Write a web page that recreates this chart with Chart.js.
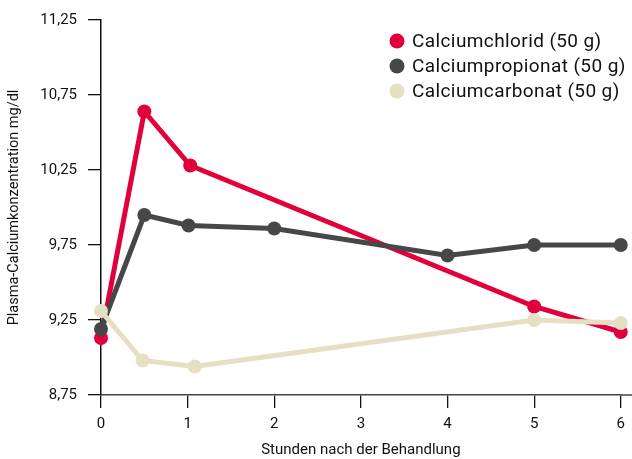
<!DOCTYPE html>
<html>
<head>
<meta charset="utf-8">
<script src="https://cdn.jsdelivr.net/npm/chart.js@4.4.1/dist/chart.umd.min.js"></script>
<style>
  html, body { margin: 0; padding: 0; background: #fff; }
  #wrap { width: 632px; height: 459px; }
</style>
</head>
<body>
<div id="wrap"><canvas id="calciumChart"></canvas></div>
<script>
// values (hours after treatment, mg/dl)
const seriesNames = ["Calciumchlorid (50 g)", "Calciumpropionat (50 g)", "Calciumcarbonat (50 g)"];
const seriesColors = ["#e2003c", "#474747", "#e5dfc3"];

const chloridHours = [0, 0.5, 1.03, 5, 6];
const chloridValues = [9.13, 10.64, 10.28, 9.34, 9.17];

const propionatHours = [0, 0.5, 1.01, 2, 4, 5, 6];
const propionatValues = [9.19, 9.95, 9.88, 9.86, 9.68, 9.75, 9.75];

const carbonatHours = [0, 0.48, 1.08, 5, 6];
const carbonatValues = [9.31, 8.98, 8.94, 9.25, 9.23];

const yTicks = [8.75, 9.25, 9.75, 10.25, 10.75, 11.25];
const xTicks = [0, 1, 2, 3, 4, 5, 6];

const FONT = "Roboto, 'DejaVu Sans', sans-serif";

const toPoints = (xs, ys) => xs.map((x, i) => ({ x, y: ys[i] }));

function lineSet(idx, xs, ys, order) {
  return {
    label: seriesNames[idx],
    data: toPoints(xs, ys),
    borderColor: seriesColors[idx],
    backgroundColor: seriesColors[idx],
    pointBackgroundColor: seriesColors[idx],
    pointBorderWidth: 0,
    pointRadius: 7,
    pointHoverRadius: 7,
    borderWidth: 5,
    tension: 0,
    clip: false,
    order
  };
}

// legend drawn inside the plot, top right
const innerLegend = {
  id: "innerLegend",
  afterDraw(chart) {
    const c = chart.ctx;
    const x0 = 397, y0 = 41, rowH = 25;
    c.save();
    c.font = "19px " + FONT;
    c.letterSpacing = "0.4px";
    c.textBaseline = "middle";
    c.textAlign = "left";
    chart.data.datasets.forEach((ds, i) => {
      const y = y0 + i * rowH;
      c.fillStyle = ds.borderColor;
      c.beginPath();
      c.arc(x0, y, 7.5, 0, Math.PI * 2);
      c.fill();
      c.fillStyle = "#111";
      c.fillText(ds.label, x0 + 15, y + 1);
    });
    c.restore();
  }
};

// x axis line runs on to the right edge
const axisTail = {
  id: "axisTail",
  afterDraw(chart) {
    const c = chart.ctx, a = chart.chartArea;
    c.save();
    c.strokeStyle = "#444";
    c.lineWidth = 1.5;
    c.beginPath();
    c.moveTo(a.right, a.bottom);
    c.lineTo(chart.width, a.bottom);
    c.stroke();
    c.restore();
  }
};

new Chart(document.getElementById("calciumChart"), {
  type: "line",
  data: {
    datasets: [
      lineSet(0, chloridHours, chloridValues, 3),
      lineSet(1, propionatHours, propionatValues, 2),
      lineSet(2, carbonatHours, carbonatValues, 1)
    ]
  },
  options: {
    responsive: true,
    maintainAspectRatio: false,
    animation: false,
    layout: { padding: { top: 16, right: 9, left: 0, bottom: 0 } },
    plugins: { legend: { display: false }, tooltip: { enabled: false } },
    scales: {
      x: {
        type: "linear",
        min: 0, max: 6,
        afterBuildTicks: s => { s.ticks = xTicks.map(v => ({ value: v })); },
        afterFit: s => { s.height = 64; },
        grid: { drawOnChartArea: false, drawTicks: true, tickLength: 13, color: "#111", lineWidth: 1.3 },
        border: { color: "#444", width: 1.5 },
        ticks: { color: "#111", font: { family: FONT, size: 15 }, padding: 7 },
        title: { display: true, text: "Stunden nach der Behandlung", color: "#111", font: { family: FONT, size: 15 }, padding: { top: 6, bottom: 0 } }
      },
      y: {
        type: "linear",
        min: 8.75, max: 11.25,
        afterBuildTicks: s => { s.ticks = yTicks.map(v => ({ value: v })); },
        afterFit: s => { s.width = 101; },
        grid: { drawOnChartArea: false, drawTicks: true, tickLength: 13, color: "#111", lineWidth: 1.3 },
        border: { color: "#111", width: 1.5 },
        ticks: { color: "#111", font: { family: FONT, size: 15 }, padding: 11,
          callback: v => v.toFixed(2).replace(".", ",") },
        title: { display: true, text: "Plasma-Calciumkonzentration mg/dl", color: "#111", font: { family: FONT, size: 14.5 }, padding: { top: 6, bottom: 0 } }
      }
    }
  },
  plugins: [innerLegend, axisTail]
});
</script>
</body>
</html>
